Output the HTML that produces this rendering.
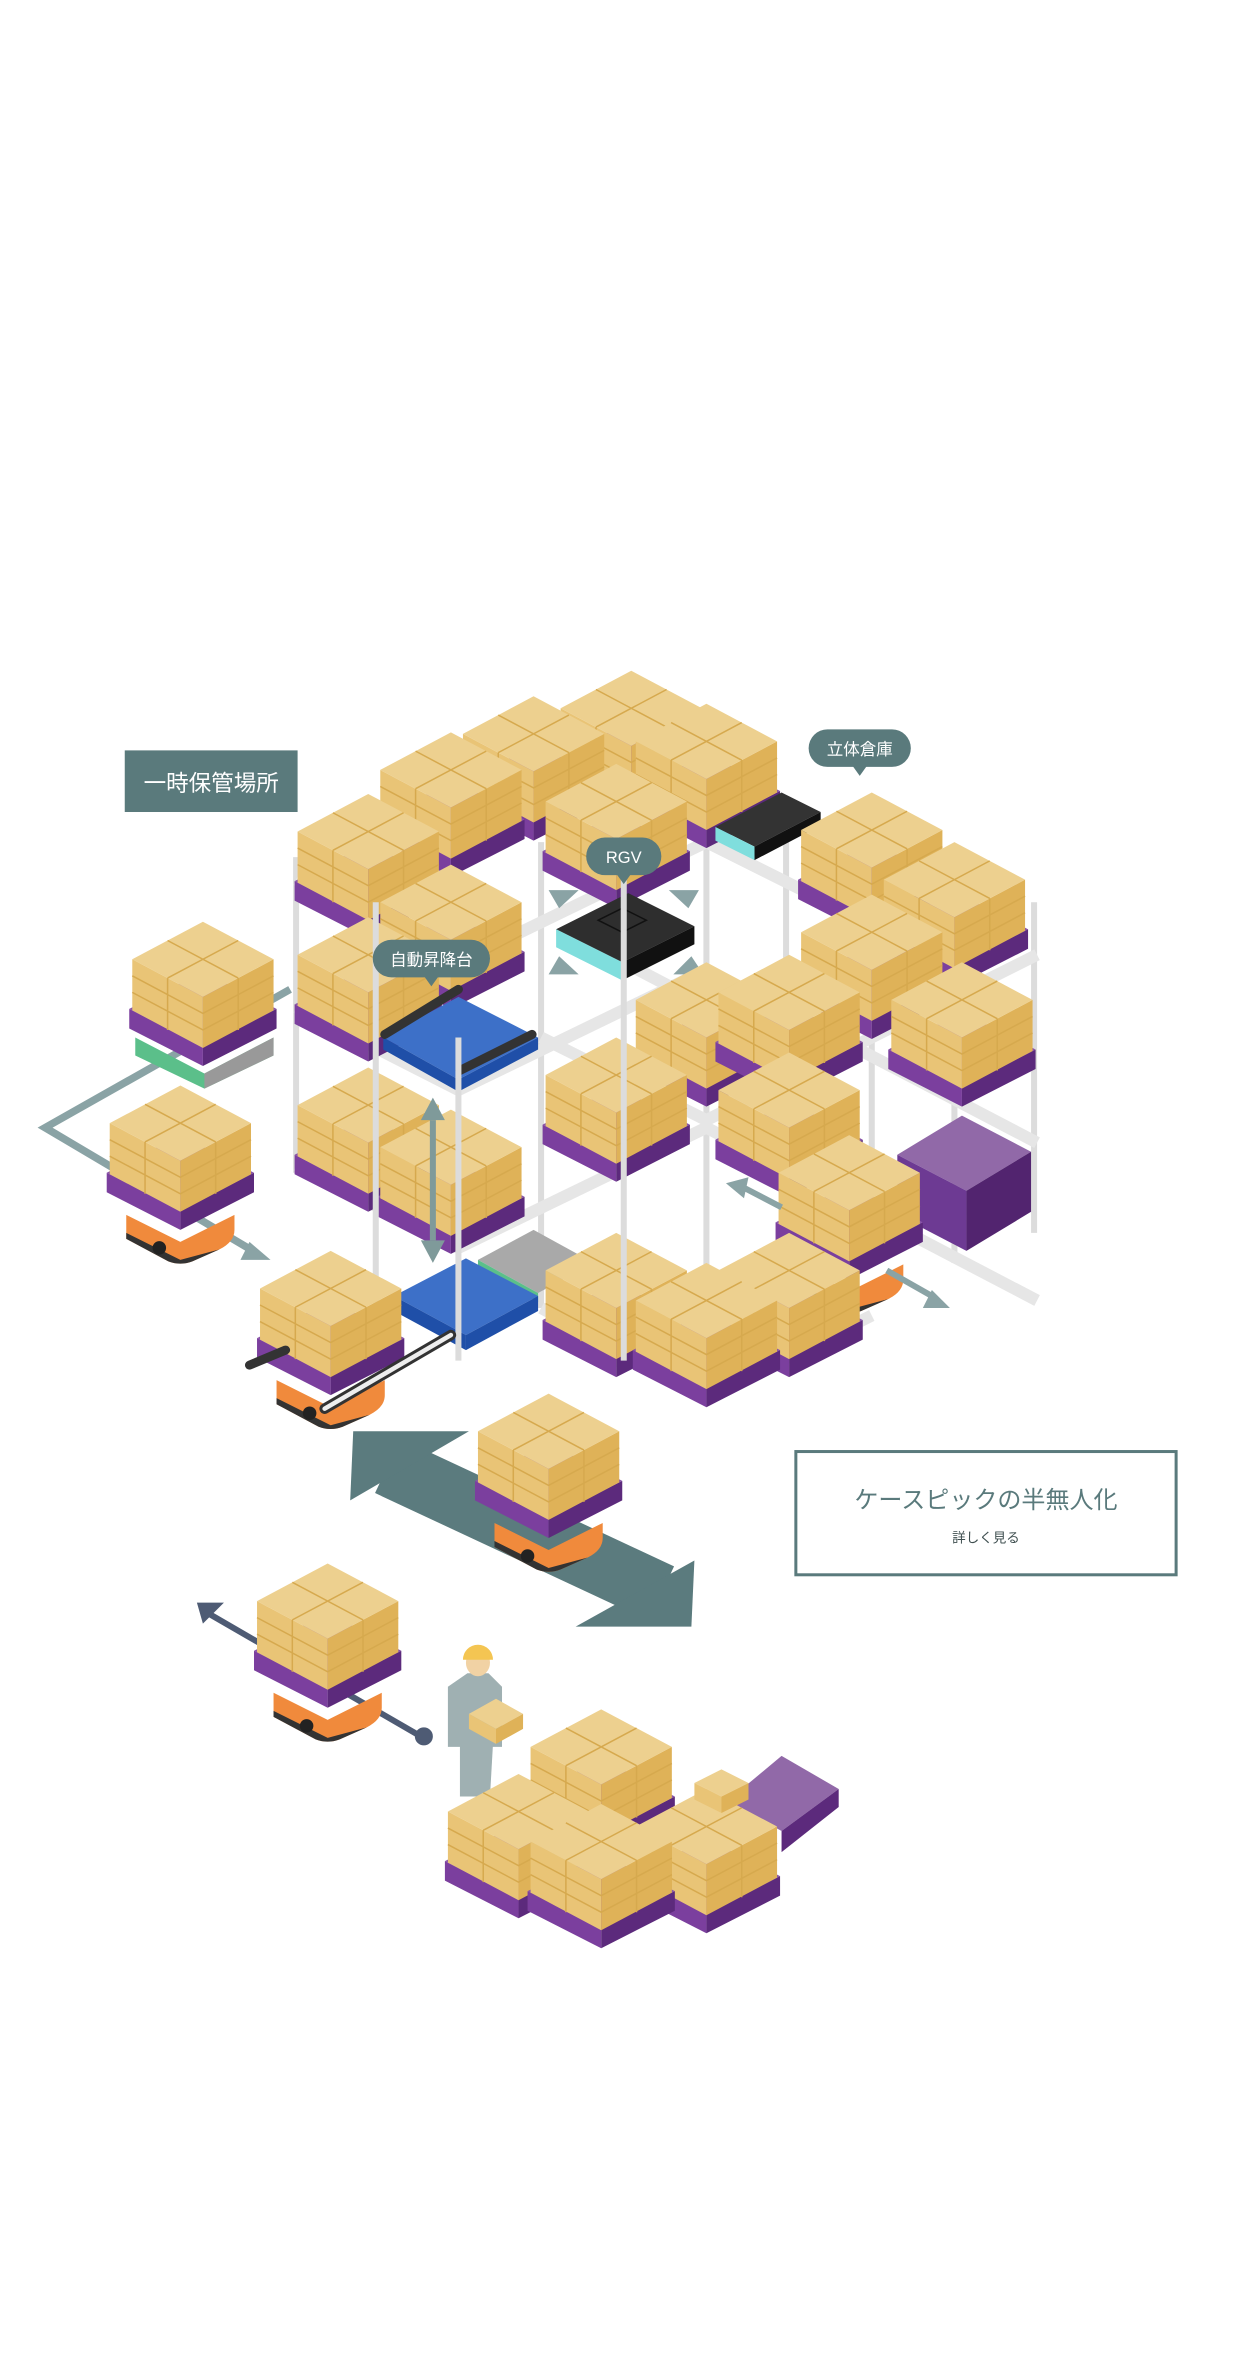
<!DOCTYPE html>
<html><head><meta charset="utf-8"><style>
html,body{margin:0;padding:0;background:#fff;}
svg{display:block;}
text{font-family:"Liberation Sans","Noto Sans CJK JP",sans-serif;}
</style></head><body>
<svg width="1243" height="2362" viewBox="0 0 827 1571" xmlns="http://www.w3.org/2000/svg">
<defs>
<g id="stack">
  <polygon points="-49,58 0,83 0,96 -49,71" fill="#7b3f9e"/>
  <polygon points="0,83 49,58 49,71 0,96" fill="#5c2a7c"/>
  <polygon points="-49,58 0,33 49,58 0,83" fill="#8a55a8"/>
  <polygon points="-47,25 0,50 0,84 -47,59" fill="#e9c476"/>
  <polygon points="0,50 47,25 47,59 0,84" fill="#dfb258"/>
  <polygon points="0,0 47,25 0,50 -47,25" fill="#edd08f"/>
  <path d="M-23.5,12.5 L23.5,37.5 M23.5,12.5 L-23.5,37.5 M-47,36 L0,61 L47,36 M-47,47 L0,72 L47,47 M-23.5,37.5 V72 M23.5,37.5 V72" stroke="#d6a94e" stroke-width="1" fill="none"/>
</g>
<g id="robot">
  <path d="M-36,86 L0,104 L36,86 L36,96 Q36,104 26,109 L8,117 Q0,120 -8,117 L-36,102 Z" fill="#f08a3c"/>
  <path d="M-36,98 L-36,102 L-8,117 Q0,120 8,117 L26,109 L0,116 Z" fill="#333"/>
  <circle cx="-14" cy="108" r="4.5" fill="#222"/>
</g>
</defs>

<g stroke="#dcdcdc" stroke-width="4">
<line x1="197" y1="570" x2="197" y2="780"/>
<line x1="360" y1="560" x2="360" y2="870"/>
<line x1="470" y1="540" x2="470" y2="935"/>
<line x1="523" y1="560" x2="523" y2="905"/>
<line x1="580" y1="560" x2="580" y2="840"/>
<line x1="635" y1="600" x2="635" y2="840"/>
<line x1="688" y1="600" x2="688" y2="820"/>
</g>
<g stroke="#e6e6e6" stroke-width="8" fill="none">
<polyline points="197,585 305,640 470,560 580,615"/>
<polyline points="197,670 305,725 470,645 690,760"/>
<polyline points="197,775 305,830 470,750 690,865"/>
<polyline points="360,690 470,745 690,635"/>
<polyline points="360,870 470,930 580,875"/>
<polyline points="415,640 520,695 640,635"/>
</g>

<use href="#stack" x="420" y="446"/>
<use href="#stack" x="355" y="463"/>
<use href="#stack" x="470" y="468"/>
<use href="#stack" x="300" y="487"/>
<use href="#stack" x="410" y="508"/>
<use href="#stack" x="245" y="528"/>
<polygon points="476,550 520,527 546,540 502,563" fill="#333"/>
<polygon points="476,550 502,563 502,572 476,559" fill="#7fdedd"/>
<polygon points="502,563 546,540 546,549 502,572" fill="#111"/>
<use href="#stack" x="580" y="527"/>
<use href="#stack" x="635" y="560"/>
<use href="#stack" x="300" y="575"/>
<use href="#stack" x="245" y="610"/>
<use href="#stack" x="580" y="595"/>
<use href="#stack" x="640" y="640"/>
<polygon points="370,618 418,594 462,616 414,640" fill="#2e2e2e"/>
<polygon points="370,618 414,640 414,652 370,630" fill="#7fdedd"/>
<polygon points="414,640 462,616 462,628 414,652" fill="#111"/>
<polygon points="398,612 414,604 430,612 414,620" fill="none" stroke="#111"/>
<g fill="#8aa3a5">
<polygon points="365,592 385,592 372,604"/><polygon points="465,592 445,592 458,604"/>
<polygon points="365,648 385,648 372,636"/><polygon points="468,648 448,648 460,636"/>
</g>
<polygon points="255,690 305,663 358,690 305,718" fill="#3d70c8"/>
<polygon points="255,690 305,718 305,726 255,698" fill="#1f4fa8"/>
<polygon points="305,718 358,690 358,698 305,726" fill="#1f4fa8"/>
<line x1="256" y1="688" x2="305" y2="658" stroke="#333" stroke-width="6" stroke-linecap="round"/>
<line x1="306" y1="712" x2="354" y2="688" stroke="#333" stroke-width="6" stroke-linecap="round"/>
<use href="#stack" x="470" y="640"/>
<use href="#stack" x="525" y="635"/>
<use href="#stack" x="245" y="710"/>
<use href="#stack" x="410" y="690"/>
<use href="#stack" x="300" y="738"/>
<use href="#stack" x="525" y="700"/>
<polygon points="597,768 640,742 686,766 643,792" fill="#9169a8"/>
<polygon points="597,768 643,792 643,832 597,808" fill="#6d3a93"/>
<polygon points="643,792 686,766 686,806 643,832" fill="#52246f"/>
<use href="#robot" x="565" y="755"/>
<use href="#stack" x="565" y="755"/>
<polygon points="318,838 355,818 395,840 358,860" fill="#a9a9a9"/>
<polygon points="318,838 358,860 358,866 318,844" fill="#5bbf8a"/>
<polygon points="262,862 310,837 358,862 310,888" fill="#3d70c8"/>
<polygon points="262,862 310,888 310,898 262,872" fill="#1f4fa8"/>
<polygon points="310,888 358,862 358,872 310,898" fill="#1f4fa8"/>
<use href="#stack" x="410" y="820"/>
<use href="#stack" x="525" y="820"/>
<use href="#stack" x="470" y="840"/>
<g stroke="#dcdcdc" stroke-width="4">
<line x1="250" y1="600" x2="250" y2="900"/>
<line x1="305" y1="690" x2="305" y2="905"/>
<line x1="415" y1="580" x2="415" y2="905"/>
</g>
<line x1="288" y1="745" x2="288" y2="825" stroke="#7f9a9a" stroke-width="4"/>
<polygon points="280,745 296,745 288,730" fill="#7f9a9a"/>
<polygon points="280,825 296,825 288,840" fill="#7f9a9a"/>
<polyline points="495,790 520,803" stroke="#8aa3a5" stroke-width="4"/>
<polygon points="483,787 498,783 495,797" fill="#8aa3a5"/>
<line x1="590" y1="845" x2="620" y2="862" stroke="#8aa3a5" stroke-width="4"/>
<polygon points="632,870 614,870 620,858" fill="#8aa3a5"/>

<polyline points="193,658 30,750 170,833" fill="none" stroke="#8aa3a5" stroke-width="5"/>
<polygon points="180,838 160,838 166,826" fill="#8aa3a5"/>
<polygon points="90,690 136,714 182,690 182,702 136,724 90,702" fill="#5bbf8a"/>
<polygon points="136,714 182,690 182,702 136,724" fill="#999"/>
<use href="#stack" x="135" y="613"/>
<use href="#robot" x="120" y="722"/>
<use href="#stack" x="120" y="722"/>
<use href="#robot" x="220" y="832"/>
<use href="#stack" x="220" y="832"/>
<line x1="166" y1="908" x2="190" y2="898" stroke="#333" stroke-width="6" stroke-linecap="round"/>
<line x1="216" y1="937" x2="300" y2="888" stroke="#333" stroke-width="7" stroke-linecap="round"/>
<line x1="216" y1="937" x2="300" y2="888" stroke="#eee" stroke-width="3" stroke-linecap="round"/>

<line x1="258" y1="975" x2="440" y2="1060" stroke="#5b7b7e" stroke-width="40"/>
<polygon points="233,998 235,952 312,952" fill="#5b7b7e"/>
<polygon points="462,1038 460,1082 383,1082" fill="#5b7b7e"/>
<use href="#robot" x="365" y="927"/>
<use href="#stack" x="365" y="927"/>

<line x1="140" y1="1074" x2="280" y2="1155" stroke="#4e5b74" stroke-width="4"/>
<polygon points="131,1066 149,1066 135,1080" fill="#4e5b74"/>
<circle cx="282" cy="1155" r="6" fill="#4e5b74"/>
<use href="#robot" x="218" y="1040"/>
<use href="#stack" x="218" y="1040"/>

<path d="M306,1160 L328,1160 L326,1195 L306,1195 Z" fill="#9fb0b2"/>
<path d="M298,1122 L311,1113 L325,1113 L334,1122 L334,1162 L298,1162 Z" fill="#9fb0b2"/>
<ellipse cx="318" cy="1106" rx="8" ry="9" fill="#f1d2a4"/>
<path d="M308,1104 A10,10 0 0 1 328,1104 Z" fill="#f4c552"/>
<polygon points="312,1140 330,1130 348,1140 330,1150" fill="#edd08f"/>
<polygon points="312,1140 330,1150 330,1160 312,1150" fill="#e9c476"/>
<polygon points="330,1150 348,1140 348,1150 330,1160" fill="#dfb258"/>

<polygon points="484,1198 520,1168 558,1190 520,1218" fill="#9169a8"/>
<polygon points="520,1218 558,1190 558,1202 520,1232" fill="#5c2a7c"/>
<use href="#stack" x="400" y="1137"/>
<use href="#stack" x="470" y="1190"/>
<polygon points="462,1186 480,1177 498,1186 480,1195" fill="#edd08f"/>
<polygon points="462,1186 480,1195 480,1206 462,1197" fill="#e9c476"/>
<polygon points="480,1195 498,1186 498,1197 480,1206" fill="#dfb258"/>
<use href="#stack" x="345" y="1180"/>
<use href="#stack" x="400" y="1200"/>

<rect x="83" y="499" width="115" height="41" fill="#5a7a7c"/>
<text x="140.5" y="526" font-size="15" fill="#fff" text-anchor="middle">一時保管場所</text>
<rect x="538" y="485" width="68" height="25" rx="12.5" fill="#5a7a7c"/>
<polygon points="567,509 577,509 572,516" fill="#5a7a7c"/>
<text x="572" y="502" font-size="11" fill="#fff" text-anchor="middle">立体倉庫</text>
<rect x="390" y="557" width="50" height="25" rx="12.5" fill="#5a7a7c"/>
<polygon points="410,581 420,581 415,588" fill="#5a7a7c"/>
<text x="415" y="574" font-size="11" fill="#fff" text-anchor="middle">RGV</text>
<rect x="248" y="625" width="78" height="25" rx="12.5" fill="#5a7a7c"/>
<polygon points="282,649 292,649 287,656" fill="#5a7a7c"/>
<text x="287" y="642" font-size="11" fill="#fff" text-anchor="middle">自動昇降台</text>

<rect x="529.5" y="965.5" width="253" height="82" fill="#fff" stroke="#5a7a7c" stroke-width="2"/>
<text x="656" y="1003" font-size="16" fill="#5a7a7c" text-anchor="middle">ケースピックの半無人化</text>
<text x="656" y="1026" font-size="9" fill="#3f4f50" text-anchor="middle">詳しく見る</text>
</svg>
</body></html>
